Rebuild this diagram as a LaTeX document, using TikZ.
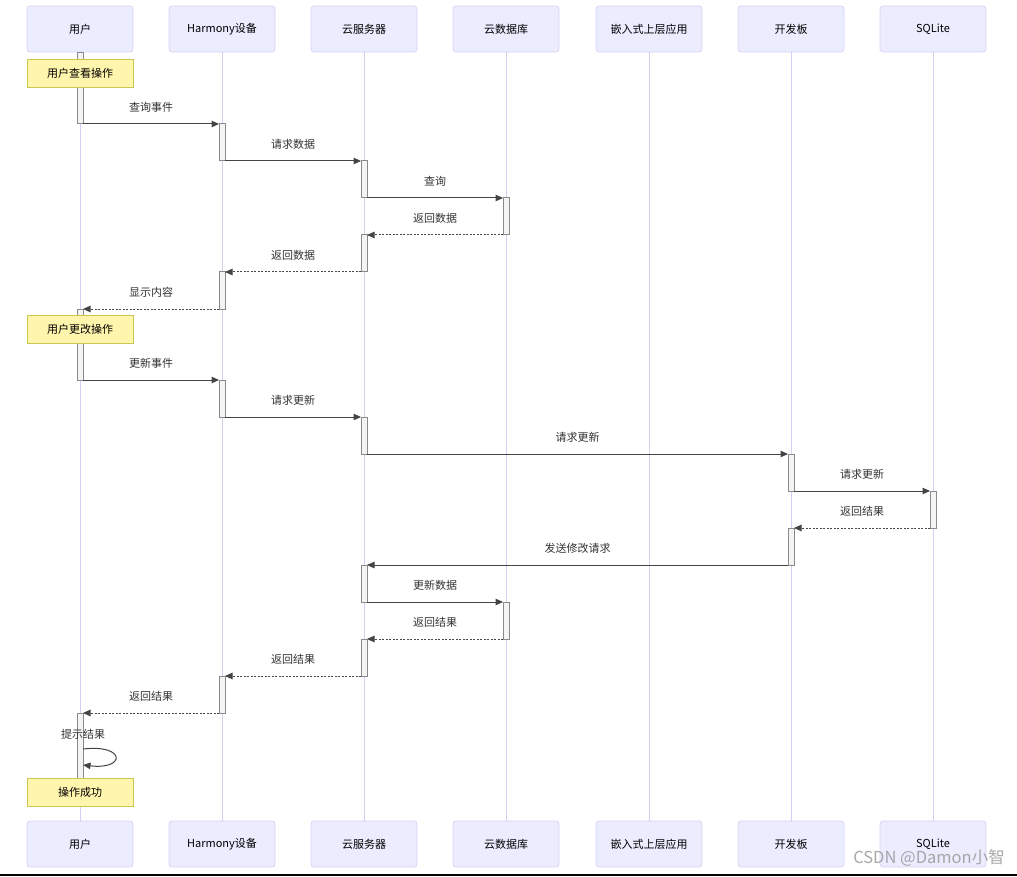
\documentclass[tikz,border=0pt]{standalone}
\usepackage{fontspec}
\setmainfont{Noto Sans CJK SC}
\usetikzlibrary{arrows.meta,calc}
\definecolor{actfill}{HTML}{ECECFF}
\definecolor{actline}{HTML}{DAD3F6}
\definecolor{lifec}{HTML}{D6CFF3}
\definecolor{notefill}{HTML}{FFF5AD}
\definecolor{noteline}{HTML}{C8C850}
\definecolor{actvfill}{HTML}{F4F4F4}
\definecolor{actvline}{HTML}{8A8A8A}
\definecolor{msgc}{HTML}{333333}
\definecolor{linec}{HTML}{444444}
\newcommand\actv[4]{\node[actbox,minimum height={#4-#3}] (#1) at (#2,{(#3+#4)/2}) {};}
\begin{document}
\begin{tikzpicture}[x=1pt,y=-1pt,font=\fontsize{11}{13}\selectfont,
  actor/.style={draw=actline,fill=actfill,rounded corners=3pt,minimum width=106pt,minimum height=46pt,inner sep=0pt,line width=0.8pt,text=black},
  actbox/.style={draw=actvline,fill=actvfill,minimum width=6pt,inner sep=0pt,outer sep=0pt,line width=1pt},
  notebox/.style={draw=noteline,fill=notefill,minimum width=106pt,minimum height=28pt,inner sep=0pt,line width=0.8pt,text=black},
  life/.style={draw=lifec,line width=1pt},
  msg/.style={draw=linec,line width=1pt,-{Triangle[length=7.5pt,width=6.5pt]}},
  ret/.style={msg,dash pattern=on 2pt off 1.5pt},
  lbl/.style={text=msgc,inner sep=0pt,midway,yshift=16.5pt},
  plainlbl/.style={text=msgc,inner sep=0pt}]
\useasboundingbox (0,0) rectangle (1017,877);
\fill[white] (0,0) rectangle (1017,877);
% participants
\foreach \n/\x/\t in {a1/80/用户,a2/222/Harmony设备,a3/364/云服务器,a4/506/云数据库,a5/649/嵌入式上层应用,a6/791/开发板,a7/933/SQLite}{
  \node[actor] (\n) at (\x,29) {\t};
}
\foreach \n/\x/\t in {b1/80/用户,b2/222/Harmony设备,b3/364/云服务器,b4/506/云数据库,b5/649/嵌入式上层应用,b6/791/开发板,b7/933/SQLite}{
  \node[actor] (\n) at (\x,844) {\t};
}
\foreach \i in {1,...,7}{\draw[life] (a\i.south) -- (b\i.north);}
% activations
\actv{u1}{80}{53}{124}
\actv{h1}{222}{124}{161}
\actv{s1}{364}{161}{198}
\actv{d1}{506}{198}{235}
\actv{s2}{364}{235}{272}
\actv{h2}{222}{272}{309}
\actv{u2}{80}{309}{380}
\actv{h3}{222}{380}{417}
\actv{s3}{364}{417}{454}
\actv{k1}{791}{454}{491}
\actv{q1}{933}{491}{528}
\actv{k2}{791}{528}{565}
\actv{s4}{364}{565}{602}
\actv{d2}{506}{602}{639}
\actv{s5}{364}{639}{676}
\actv{h4}{222}{676}{713}
\actv{u3}{80}{713}{779}
% messages
\draw[msg] (u1.south east) -- node[lbl]{查询事件} (h1.north west);
\draw[msg] (h1.south east) -- node[lbl]{请求数据} (s1.north west);
\draw[msg] (s1.south east) -- node[lbl]{查询} (d1.north west);
\draw[ret] (d1.south west) -- node[lbl]{返回数据} (s2.north east);
\draw[ret] (s2.south west) -- node[lbl]{返回数据} (h2.north east);
\draw[ret] (h2.south west) -- node[lbl]{显示内容} (u2.north east);
\draw[msg] (u2.south east) -- node[lbl]{更新事件} (h3.north west);
\draw[msg] (h3.south east) -- node[lbl]{请求更新} (s3.north west);
\draw[msg] (s3.south east) -- node[lbl]{请求更新} (k1.north west);
\draw[msg] (k1.south east) -- node[lbl]{请求更新} (q1.north west);
\draw[ret] (q1.south west) -- node[lbl]{返回结果} (k2.north east);
\draw[msg] (k2.south west) -- node[lbl]{发送修改请求} (s4.north east);
\draw[msg] (s4.south east) -- node[lbl]{更新数据} (d2.north west);
\draw[ret] (d2.south west) -- node[lbl]{返回结果} (s5.north east);
\draw[ret] (s5.south west) -- node[lbl]{返回结果} (h4.north east);
\draw[ret] (h4.south west) -- node[lbl]{返回结果} (u3.north east);
% self message
\coordinate (l1) at (83,749);
\coordinate (l2) at (83,765);
\node[plainlbl] (t17) at (83,734) {提示结果};
\draw[msg] (l1) .. controls (126,744) and (126,770) .. (l2);
% notes
\node[notebox] (n1) at (80,73) {用户查看操作};
\node[notebox] (n2) at (80,329.5) {用户更改操作};
\node[notebox] (n3) at (80,792.5) {操作成功};
% watermark and bottom rule
\node[text=black!40,opacity=0.85,inner sep=0pt,font=\fontsize{16.5}{17}\selectfont] (wm) at (929,858) {CSDN @Damon小智};
\draw[line width=1.5pt] (0,875) -- (1017,875);
\end{tikzpicture}
\end{document}
